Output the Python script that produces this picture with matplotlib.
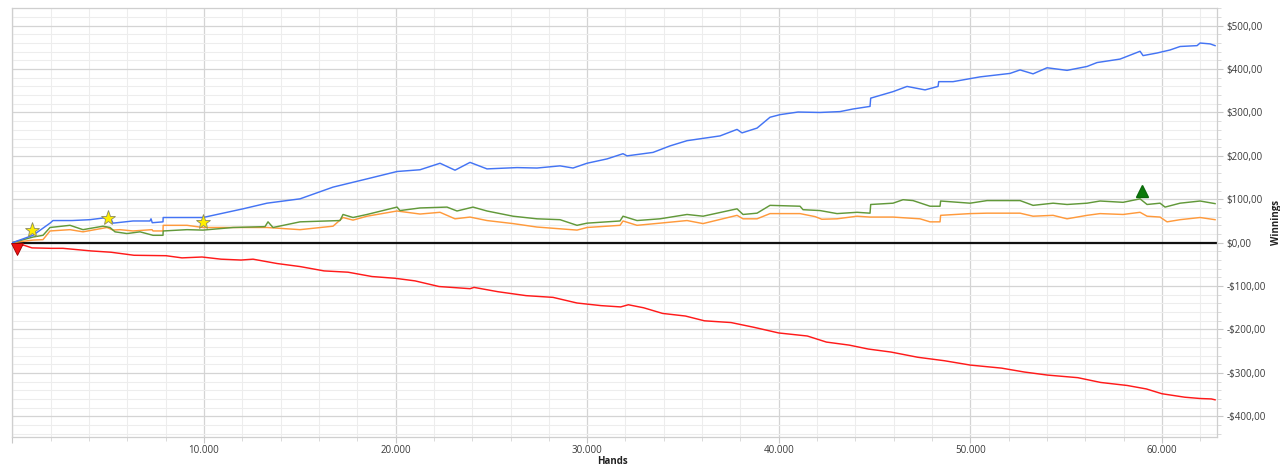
import matplotlib
matplotlib.use("Agg")
import matplotlib.pyplot as plt
from matplotlib.ticker import MultipleLocator, FuncFormatter

plt.rcParams['font.family'] = ['Open Sans', 'DejaVu Sans']

# ---- data (hands, winnings $) ----
blue_x = [0, 1075, 1963, 2119, 3111, 4051, 4938, 5095, 5251, 6295, 7180, 7235, 7300, 7861, 7870,
          9114, 9949, 10680, 12037, 13290, 15013, 16735, 18510, 20076, 21276, 22320, 23103, 23886,
          24773, 26339, 27383, 28584, 29262, 29993, 31037, 31872, 32081, 33438, 34326, 35213, 36935,
          37823, 38084, 38867, 39545, 40067, 41007, 42155, 43199, 43878, 44765, 44800, 45966, 46697,
          47636, 48315, 48350, 49098, 50508, 52074, 52596, 53275, 54005, 55049, 56093, 56615, 57816,
          58860, 59016, 59747, 60426, 60948, 61835, 61992, 62514, 62775]
blue_y = [0, 17, 45, 51, 51, 53, 58, 58, 45, 50, 50, 55, 46, 48, 58,
          58, 58, 65, 78, 91, 101, 128, 147, 164, 168, 183, 167, 185,
          170, 173, 172, 177, 172, 183, 193, 205, 200, 208, 223, 235, 246,
          261, 253, 264, 289, 295, 301, 300, 302, 308, 314, 333, 348, 360,
          352, 360, 371, 371, 382, 390, 398, 389, 403, 397, 406, 415, 423,
          441, 431, 437, 444, 452, 454, 460, 458, 454]

green_x = [0, 1075, 1597, 1963, 3007, 3685, 4729, 5095, 5356, 5982, 6661, 7339, 7861, 7870,
           9114, 9949, 11515, 13185, 13342, 13603, 15013, 17101, 17257, 17779, 18510, 20076, 20233,
           21276, 22685, 23207, 24042, 24773, 26130, 27383, 28584, 29471, 29993, 31716, 31872,
           32603, 33804, 35213, 36048, 37823, 38136, 38867, 39545, 41112, 41268, 42155, 43043,
           44087, 44765, 44800, 45966, 46488, 47010, 47897, 48419, 48450, 49985, 50873, 52596,
           53275, 54319, 55049, 56093, 56772, 57973, 58860, 59225, 59904, 60165, 60948, 61992, 62775]
green_y = [0, 13, 17, 35, 40, 30, 38, 35, 25, 21, 25, 17, 17, 27,
           30, 29, 35, 37, 48, 35, 48, 51, 65, 58, 65, 82, 74,
           80, 82, 73, 82, 73, 61, 55, 53, 40, 45, 50, 61,
           51, 55, 65, 61, 78, 65, 68, 86, 84, 76, 74, 67,
           70, 68, 88, 91, 99, 97, 84, 84, 96, 91, 97, 97,
           86, 91, 88, 91, 96, 93, 101, 88, 91, 82, 91, 96, 90]

orange_x = [0, 1075, 1597, 1963, 3007, 3685, 4938, 5251, 5617, 6295, 7287, 7339, 7861, 7870,
            9114, 9949, 11515, 13290, 15013, 16735, 17257, 17779, 18510, 20076, 21276, 22320,
            23103, 23886, 24773, 26130, 27383, 28584, 29471, 29993, 31716, 31872, 32603, 33804,
            35213, 36048, 37823, 38136, 38867, 39545, 41112, 41900, 42250, 43043, 44087, 44765,
            45966, 47375, 47897, 48419, 48450, 49985, 50873, 52596, 53275, 54319, 55049, 56093,
            56772, 57973, 58860, 59225, 59904, 60269, 60948, 61992, 62775]
orange_y = [0, 6, 7, 27, 30, 25, 35, 29, 30, 27, 30, 27, 27, 40,
            40, 35, 35, 35, 30, 38, 58, 52, 61, 73, 66, 70,
            55, 59, 51, 44, 36, 32, 29, 35, 40, 50, 40, 45,
            51, 44, 63, 55, 55, 67, 67, 60, 54, 55, 61, 59,
            59, 55, 48, 48, 63, 67, 68, 68, 61, 63, 55, 63,
            67, 65, 70, 61, 59, 48, 53, 58, 53]

red_x = [0, 300, 606, 1023, 2015, 2641, 4103, 5147, 6348, 8018, 8853, 9897, 10889, 11933, 12560,
         13812, 15013, 16265, 17518, 18771, 19972, 21016, 22268, 23886, 24095, 25348, 26810, 28219,
         29471, 30724, 31750, 32150, 32950, 33940, 35130, 36120, 37510, 38710, 40000, 41490, 42490,
         43680, 44670, 45860, 47260, 48650, 50000, 51630, 52820, 54020, 55610, 56800, 58190, 59190,
         60000, 61190, 61990, 62580, 62775]
red_y = [0, -6, -6, -12, -13, -13, -19, -22, -29, -30, -35, -33, -38, -40, -38,
         -48, -55, -65, -68, -78, -82, -88, -101, -106, -103, -113, -122, -126,
         -139, -145, -148, -143, -150, -163, -169, -180, -184, -195, -208, -215, -229,
         -236, -245, -252, -264, -272, -282, -289, -298, -305, -311, -322, -329, -337,
         -348, -356, -359, -360, -362]

star_x = [1007, 5006, 9965]
star_y = [29, 56, 47]
up_x = [58965]
up_y = [120]
down_x = [260]
down_y = [-14]

x_major = 10000
x_minor = 2000
y_major = 100
y_minor = 20

# ---- figure ----
W, H = 1280, 467
fig = plt.figure(figsize=(W / 100, H / 100), dpi=100)
ax = fig.add_axes([12.4 / W, 1 - 436.7 / H, (1216.7 - 12.4) / W, (436.7 - 8.3) / H])

ax.set_xlim(0, 62860)
ax.set_ylim(-447, 540)

ax.xaxis.set_major_locator(MultipleLocator(x_major))
ax.xaxis.set_minor_locator(MultipleLocator(x_minor))
ax.yaxis.set_major_locator(MultipleLocator(y_major))
ax.yaxis.set_minor_locator(MultipleLocator(y_minor))

ax.grid(which='major', color='#d4d4d4', linewidth=0.9, zorder=0)
ax.grid(which='minor', color='#ededed', linewidth=0.8, zorder=0)
ax.set_axisbelow(True)

def xfmt(v, pos):
    if v <= 0:
        return ''
    return f"{int(round(v)):,}".replace(',', '.')

def yfmt(v, pos):
    v = int(round(v))
    s = f"${abs(v)},00"
    return ('-' + s) if v < 0 else s

ax.xaxis.set_major_formatter(FuncFormatter(xfmt))
ax.yaxis.set_major_formatter(FuncFormatter(yfmt))
ax.yaxis.tick_right()

ax.tick_params(axis='both', which='major', labelsize=7, labelcolor='#3a3a3a',
               color='#c8c8c8', length=4, width=0.8, pad=2)
ax.tick_params(axis='both', which='minor', color='#dadada', length=3, width=0.7)
ax.tick_params(axis='y', which='major', pad=3)

for s in ax.spines.values():
    s.set_color('#cfcfcf')
    s.set_linewidth(0.9)

ax.axhline(0, color='#111111', linewidth=1.6, zorder=2)

lw = 1.05
ax.plot(red_x, red_y, color='#ff1a1a', linewidth=lw, zorder=3)
ax.plot(orange_x, orange_y, color='#ff9a3c', linewidth=lw, zorder=3)
ax.plot(green_x, green_y, color='#62993a', linewidth=lw, zorder=4)
ax.plot(blue_x, blue_y, color='#4474f4', linewidth=lw, zorder=5)

ax.plot(star_x, star_y, linestyle='none', marker='*', markersize=11,
        markerfacecolor='#ffee00', markeredgecolor='#8a8a60', markeredgewidth=0.6, zorder=6)
ax.plot(up_x, up_y, linestyle='none', marker='^', markersize=9,
        markerfacecolor='#0b7a0b', markeredgecolor='#0b6a0b', zorder=6)
ax.plot(down_x, down_y, linestyle='none', marker='v', markersize=8,
        markerfacecolor='#ee1111', markeredgecolor='#990000', markeredgewidth=0.6,
        zorder=6, clip_on=False)

fig.text(1276 / W, 1 - 222 / H, 'Winnings', rotation=90, ha='center', va='center',
         fontsize=7, fontweight='bold', color='#222222')
fig.text(612 / W, 1 - 456 / H, 'Hands', ha='center', va='top',
         fontsize=7, fontweight='bold', color='#222222')

fig.savefig('out.png', dpi=100)
